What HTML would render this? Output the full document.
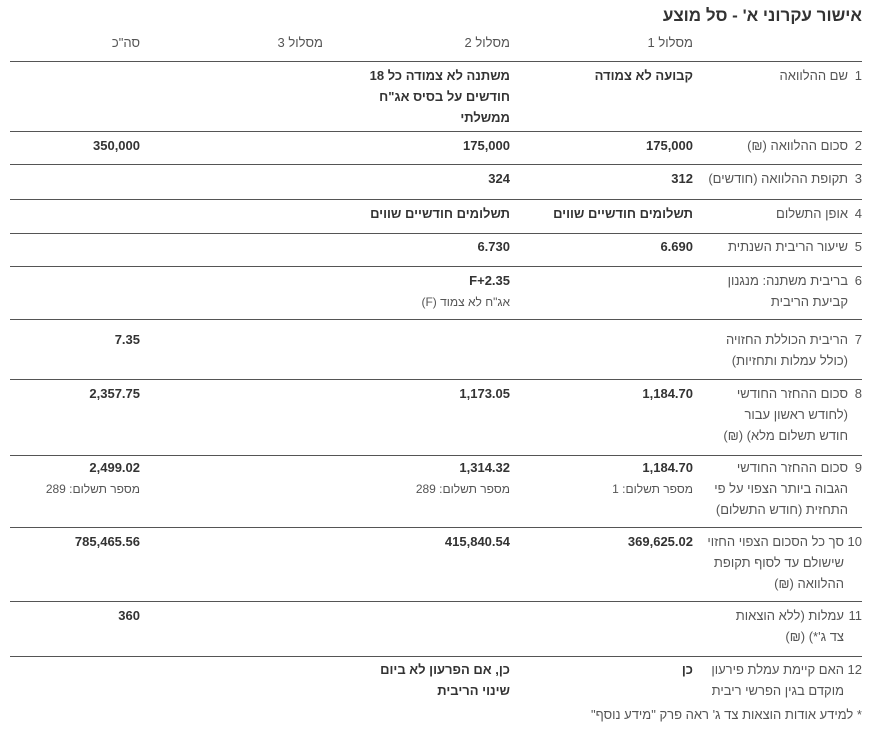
<!DOCTYPE html>
<html><head><meta charset="utf-8"><style>
body{margin:0;width:874px;height:746px;background:#fff;font-family:"Liberation Sans","Noto Sans CJK SC",sans-serif;color:#555;position:relative;overflow:hidden}
div{position:absolute;direction:rtl;text-align:right;font-size:13px;line-height:21px;white-space:nowrap}
.b{font-weight:bold;color:#333}
.h{top:32px}
.l{position:absolute;left:10px;width:852px;height:1px;background:#555}
.n{right:12px}
.t{right:26px}
.t2{right:30px}
.c1{right:181px}
.c2{right:364px}
.c3{right:734px}
.s{font-size:12px;color:#555;font-weight:normal}
</style></head><body>
<div class="b" style="top:4px;right:12px;font-size:17px;line-height:24px">אישור עקרוני א' - סל מוצע</div>
<div class="h" style="right:181px">מסלול 1</div>
<div class="h" style="right:364px">מסלול 2</div>
<div class="h" style="right:551px">מסלול 3</div>
<div class="h" style="right:734px">סה"כ</div>

<span class="l" style="top:61px"></span>
<div class="n" style="top:65px">1</div><div class="t" style="top:65px">שם ההלוואה</div>
<div class="c1 b" style="top:65px">קבועה לא צמודה</div>
<div class="c2 b" style="top:65px">משתנה לא צמודה כל 18<br>חודשים על בסיס אג"ח<br>ממשלתי</div>

<span class="l" style="top:131px"></span>
<div class="n" style="top:135px">2</div><div class="t" style="top:135px">סכום ההלוואה (₪)</div>
<div class="c1 b" style="top:135px">175,000</div><div class="c2 b" style="top:135px">175,000</div><div class="c3 b" style="top:135px">350,000</div>

<span class="l" style="top:164px"></span>
<div class="n" style="top:168px">3</div><div class="t" style="top:168px">תקופת ההלוואה (חודשים)</div>
<div class="c1 b" style="top:168px">312</div>
<div class="c2 b" style="top:168px">324</div>

<span class="l" style="top:199px"></span>
<div class="n" style="top:203px">4</div><div class="t" style="top:203px">אופן התשלום</div>
<div class="c1 b" style="top:203px">תשלומים חודשיים שווים</div><div class="c2 b" style="top:203px">תשלומים חודשיים שווים</div>

<span class="l" style="top:233px"></span>
<div class="n" style="top:236px">5</div><div class="t" style="top:236px">שיעור הריבית השנתית</div>
<div class="c1 b" style="top:236px">6.690</div><div class="c2 b" style="top:236px">6.730</div>

<span class="l" style="top:266px"></span>
<div class="n" style="top:270px">6</div><div class="t" style="top:270px">בריבית משתנה: מנגנון<br>קביעת הריבית</div>
<div class="c2" style="top:270px"><b style="color:#333">F+2.35</b><br><span class="s">אג"ח לא צמוד (F)</span></div>

<span class="l" style="top:319px"></span>
<div class="n" style="top:329px">7</div><div class="t" style="top:329px">הריבית הכוללת החזויה<br>(כולל עמלות ותחזיות)</div>
<div class="c3 b" style="top:329px">7.35</div>

<span class="l" style="top:379px"></span>
<div class="n" style="top:383px">8</div><div class="t" style="top:383px">סכום ההחזר החודשי<br>(לחודש ראשון עבור<br>חודש תשלום מלא) (₪)</div>
<div class="c1 b" style="top:383px">1,184.70</div><div class="c2 b" style="top:383px">1,173.05</div><div class="c3 b" style="top:383px">2,357.75</div>

<span class="l" style="top:455px"></span>
<div class="n" style="top:457px">9</div><div class="t" style="top:457px">סכום ההחזר החודשי<br>הגבוה ביותר הצפוי על פי<br>התחזית (חודש התשלום)</div>
<div class="c1" style="top:457px"><b style="color:#333">1,184.70</b><br><span class="s">מספר תשלום: 1</span></div>
<div class="c2" style="top:457px"><b style="color:#333">1,314.32</b><br><span class="s">מספר תשלום: 289</span></div>
<div class="c3" style="top:457px"><b style="color:#333">2,499.02</b><br><span class="s">מספר תשלום: 289</span></div>

<span class="l" style="top:527px"></span>
<div class="n" style="top:531px">10</div><div class="t2" style="top:531px">סך כל הסכום הצפוי החזוי<br>שישולם עד לסוף תקופת<br>ההלוואה (₪)</div>
<div class="c1 b" style="top:531px">369,625.02</div><div class="c2 b" style="top:531px">415,840.54</div><div class="c3 b" style="top:531px">785,465.56</div>

<span class="l" style="top:601px"></span>
<div class="n" style="top:605px">11</div><div class="t2" style="top:605px">עמלות (ללא הוצאות<br>צד ג'*) (₪)</div>
<div class="c3 b" style="top:605px">360</div>

<span class="l" style="top:656px"></span>
<div class="n" style="top:659px">12</div><div class="t2" style="top:659px">האם קיימת עמלת פירעון<br>מוקדם בגין הפרשי ריבית</div>
<div class="c1 b" style="top:659px">כן</div>
<div class="c2 b" style="top:659px">כן, אם הפרעון לא ביום<br>שינוי הריבית</div>

<div style="top:704px;right:12px">* למידע אודות הוצאות צד ג' ראה פרק "מידע נוסף"</div>
</body></html>
